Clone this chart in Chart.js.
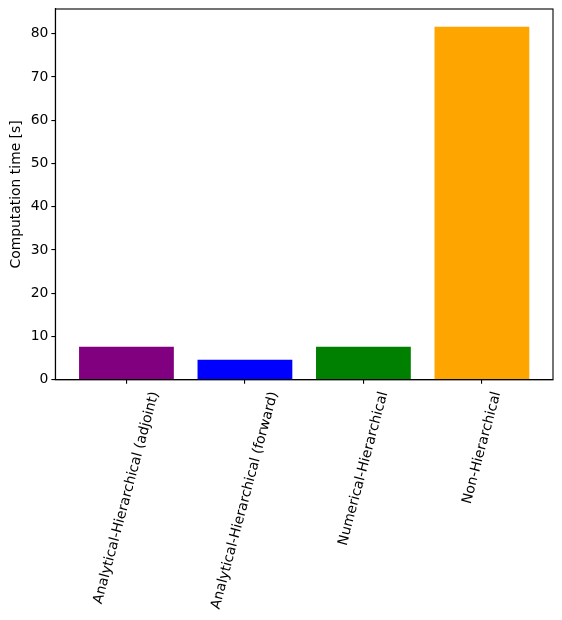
<!DOCTYPE html>
<html>
<head>
<meta charset="utf-8">
<script src="https://cdn.jsdelivr.net/npm/chart.js@4/dist/chart.umd.min.js"></script>
<style>
  html, body { margin: 0; padding: 0; background: #fff; }
  #wrap { width: 562px; height: 620px; }
</style>
</head>
<body>
<div id="wrap"><canvas id="chart"></canvas></div>
<script>
// Data
const methods = [
  'Analytical-Hierarchical (adjoint)',
  'Analytical-Hierarchical (forward)',
  'Numerical-Hierarchical',
  'Non-Hierarchical'
];
const times = [7.65, 4.64, 7.65, 81.6];
const barColors = ['#800080', '#0000ff', '#008000', '#ffa500'];
const yTicks = [0, 10, 20, 30, 40, 50, 60, 70, 80];

const FONT = 'DejaVu Sans';
const FSIZE = 13.9;
const xMin = -0.6, xMax = methods.length - 0.4;

// matplotlib-like full frame around the plot area
const frame = {
  id: 'frame',
  afterDraw(chart) {
    const { ctx, chartArea: a } = chart;
    ctx.save();
    ctx.strokeStyle = '#000';
    ctx.lineWidth = 1.1;
    ctx.strokeRect(a.left, a.top, a.right - a.left, a.bottom - a.top);
    ctx.restore();
  }
};

new Chart(document.getElementById('chart'), {
  type: 'bar',
  data: {
    datasets: [{
      data: times.map((v, i) => ({ x: i, y: v })),
      backgroundColor: barColors,
      borderWidth: 0,
      barPercentage: 0.8,
      categoryPercentage: 1.0
    }]
  },
  options: {
    responsive: true,
    maintainAspectRatio: false,
    animation: false,
    layout: { padding: { top: 9, right: 9, left: 5, bottom: 3 } },
    plugins: { legend: { display: false }, tooltip: { enabled: false } },
    scales: {
      x: {
        type: 'linear',
        min: xMin,
        max: xMax,
        offset: false,
        weight: 0,
        afterBuildTicks: s => { s.ticks = methods.map((_, i) => ({ value: i })); },
        grid: { offset: false, drawOnChartArea: false, drawTicks: true, tickLength: 4, color: '#000', lineWidth: 1.1 },
        border: { display: true, color: '#000', width: 1.1 },
        ticks: { display: false }
      },
      // separate axis carrying the rotated labels, centred under each tick like matplotlib
      xl: {
        type: 'linear',
        position: 'bottom',
        min: xMin,
        max: xMax,
        offset: false,
        weight: 1,
        afterBuildTicks: s => {
          const ctx = s.ctx;
          ctx.save();
          ctx.font = FSIZE + 'px "' + FONT + '"';
          const ppu = s.width / (xMax - xMin);
          s.ticks = methods.map((m, i) => {
            const w = ctx.measureText(m).width;
            const shift = (w * Math.cos(75 * Math.PI / 180) / 2) / ppu;
            return { value: i + shift };
          });
          ctx.restore();
        },
        grid: { display: false, drawTicks: false, offset: false },
        border: { display: false },
        ticks: {
          autoSkip: false,
          minRotation: 75,
          maxRotation: 75,
          padding: 6,
          color: '#000',
          font: { family: FONT, size: FSIZE },
          callback: v => methods[Math.round(v)]
        }
      },
      y: {
        min: 0,
        max: 85.7,
        afterBuildTicks: s => { s.ticks = yTicks.map(v => ({ value: v })); },
        grid: { drawOnChartArea: false, drawTicks: true, tickLength: 4, color: '#000', lineWidth: 1.1 },
        border: { display: true, color: '#000', width: 1.1 },
        ticks: { color: '#000', padding: 3, font: { family: FONT, size: FSIZE, lineHeight: 0.8 } },
        title: {
          display: true,
          text: 'Computation time [s]',
          color: '#000',
          padding: { top: 3, bottom: 3 },
          font: { family: FONT, size: FSIZE }
        }
      }
    }
  },
  plugins: [frame]
});
</script>
</body>
</html>
